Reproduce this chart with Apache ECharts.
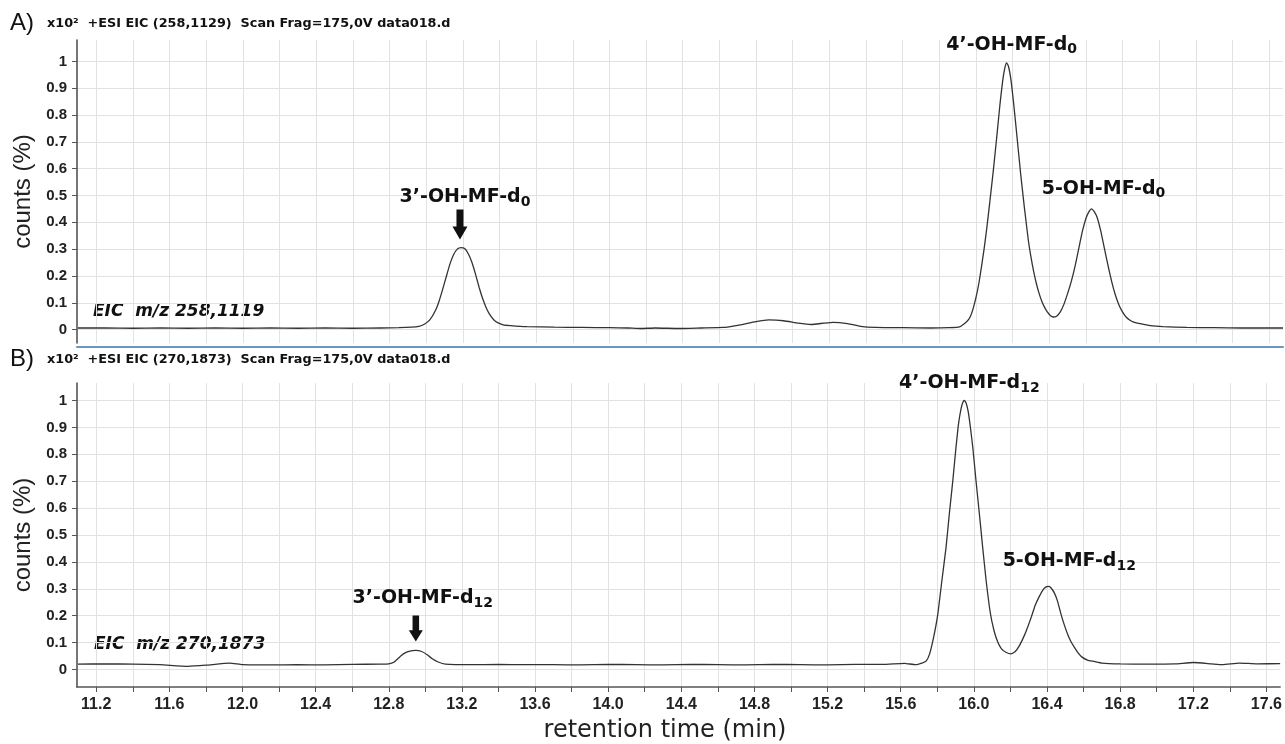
<!DOCTYPE html>
<html>
<head>
<meta charset="utf-8">
<script src="https://cdn.jsdelivr.net/npm/echarts@6/dist/echarts.min.js"></script>
<style>
  body { margin: 0; background: #fff; }
  #eicCharts { width: 1285px; height: 744px; }
</style>
</head>
<body>
<div id="eicCharts"></div>
<script>
// panel A : m/z 258,1119 (d0)
const timeA = [11.10, 11.25, 11.40, 11.55, 11.70, 11.85, 12.00, 12.15, 12.30, 12.45, 12.60, 12.75, 12.85, 12.92, 12.96,
  12.99, 13.02, 13.05, 13.07, 13.09, 13.11, 13.13, 13.15, 13.17, 13.19, 13.21, 13.23, 13.25, 13.27, 13.29, 13.31,
  13.33, 13.35, 13.37, 13.39, 13.42, 13.46, 13.55, 13.70, 13.85, 14.00, 14.10, 14.17, 14.25, 14.38, 14.50, 14.62,
  14.70, 14.80, 14.87, 14.95, 15.03, 15.10, 15.17, 15.22, 15.30, 15.37, 15.45, 15.60, 15.75, 15.85, 15.91, 15.95,
  15.97, 15.985, 16.00, 16.015, 16.03, 16.045, 16.06, 16.076, 16.094, 16.112, 16.13, 16.145, 16.157, 16.167, 16.177,
  16.19, 16.207, 16.225, 16.243, 16.264, 16.285, 16.30, 16.315, 16.33, 16.345, 16.36, 16.375, 16.39, 16.405, 16.421,
  16.44, 16.46, 16.48, 16.50, 16.52, 16.54, 16.56, 16.58, 16.60, 16.615, 16.63, 16.645, 16.66, 16.68, 16.70, 16.72,
  16.74, 16.76, 16.78, 16.80, 16.82, 16.84, 16.86, 16.88, 16.95, 17.02, 17.15, 17.30, 17.45, 17.60, 17.675];
const countA = [0.006, 0.006, 0.005, 0.006, 0.005, 0.006, 0.005, 0.006, 0.005, 0.006, 0.005, 0.006, 0.007, 0.009, 0.012,
  0.020, 0.036, 0.070, 0.105, 0.150, 0.198, 0.245, 0.280, 0.300, 0.306, 0.302, 0.283, 0.250, 0.205, 0.155, 0.112,
  0.078, 0.053, 0.036, 0.026, 0.018, 0.015, 0.011, 0.009, 0.008, 0.007, 0.006, 0.004, 0.006, 0.004, 0.006, 0.008,
  0.016, 0.030, 0.036, 0.033, 0.024, 0.019, 0.024, 0.027, 0.022, 0.012, 0.008, 0.007, 0.006, 0.007, 0.010, 0.030,
  0.050, 0.080, 0.120, 0.170, 0.235, 0.305, 0.385, 0.480, 0.590, 0.710, 0.835, 0.925, 0.975, 0.995, 0.982,
  0.935, 0.833, 0.710, 0.585, 0.455, 0.336, 0.270, 0.215, 0.170, 0.133, 0.104, 0.082, 0.065, 0.053, 0.047,
  0.050, 0.066, 0.095, 0.135, 0.180, 0.235, 0.300, 0.365, 0.415, 0.438, 0.450, 0.440, 0.420, 0.370, 0.305, 0.240,
  0.180, 0.130, 0.092, 0.065, 0.046, 0.035, 0.028, 0.024, 0.015, 0.011, 0.008, 0.007, 0.006, 0.006, 0.006];

// panel B : m/z 270,1873 (d12)
const timeB = [11.10, 11.25, 11.40, 11.55, 11.70, 11.80, 11.93, 12.00, 12.15, 12.30, 12.45, 12.60, 12.75, 12.80, 12.83,
  12.857, 12.88, 12.91, 12.948, 12.98, 13.01, 13.038, 13.07, 13.11, 13.25, 13.40, 13.55, 13.70, 13.85, 14.00, 14.15,
  14.30, 14.45, 14.60, 14.75, 14.90, 15.05, 15.20, 15.35, 15.50, 15.62, 15.68, 15.72, 15.74, 15.758, 15.78, 15.803,
  15.825, 15.848, 15.866, 15.885, 15.90, 15.916, 15.93, 15.94, 15.948, 15.958, 15.97, 15.982, 15.994, 16.012, 16.030,
  16.048, 16.067, 16.09, 16.11, 16.13, 16.15, 16.175, 16.203, 16.225, 16.25, 16.275, 16.294, 16.315, 16.335, 16.358,
  16.38, 16.395, 16.407, 16.42, 16.44, 16.457, 16.476, 16.495, 16.515, 16.53, 16.549, 16.57, 16.59, 16.621, 16.658,
  16.70, 16.80, 16.95, 17.10, 17.20, 17.30, 17.36, 17.45, 17.55, 17.675];
const countB = [0.020, 0.021, 0.020, 0.018, 0.012, 0.016, 0.024, 0.018, 0.017, 0.018, 0.017, 0.019, 0.020, 0.021, 0.028,
  0.045, 0.058, 0.067, 0.071, 0.067, 0.055, 0.040, 0.028, 0.020, 0.018, 0.019, 0.018, 0.018, 0.017, 0.019, 0.018,
  0.017, 0.019, 0.018, 0.017, 0.019, 0.018, 0.017, 0.019, 0.019, 0.023, 0.018, 0.025, 0.032, 0.058, 0.120, 0.207,
  0.330, 0.455, 0.580, 0.703, 0.810, 0.913, 0.970, 0.993, 1.000, 0.990, 0.955, 0.895, 0.826, 0.700, 0.579,
  0.455, 0.331, 0.210, 0.145, 0.103, 0.078, 0.064, 0.058, 0.066, 0.090, 0.125, 0.157, 0.197, 0.238, 0.272,
  0.298, 0.307, 0.309, 0.305, 0.285, 0.255, 0.207, 0.165, 0.127, 0.105, 0.083, 0.062, 0.047, 0.035, 0.030,
  0.024, 0.021, 0.020, 0.021, 0.026, 0.021, 0.018, 0.024, 0.021, 0.022];

// peak labels [time, counts, name, subscript]
const peaksA = [[13.19, 0.306, '3’-OH-MF-d', '0'], [16.167, 0.995, '4’-OH-MF-d', '0'], [16.63, 0.450, '5-OH-MF-d', '0']];
const peaksB = [[12.948, 0.071, '3’-OH-MF-d', '12'], [15.948, 1.000, '4’-OH-MF-d', '12'], [16.407, 0.309, '5-OH-MF-d', '12']];

const xTicks = [11.2, 11.4, 11.6, 11.8, 12.0, 12.2, 12.4, 12.6, 12.8, 13.0, 13.2, 13.4, 13.6, 13.8, 14.0, 14.2, 14.4,
  14.6, 14.8, 15.0, 15.2, 15.4, 15.6, 15.8, 16.0, 16.2, 16.4, 16.6, 16.8, 17.0, 17.2, 17.4, 17.6];
const xLabels = [11.2, 11.6, 12.0, 12.4, 12.8, 13.2, 13.6, 14.0, 14.4, 14.8, 15.2, 15.6, 16.0, 16.4, 16.8, 17.2, 17.6];
const yTicks = [0, 0.1, 0.2, 0.3, 0.4, 0.5, 0.6, 0.7, 0.8, 0.9, 1];

const FONT = 'Liberation Sans, Arial, sans-serif';
const WIDE = 'DejaVu Sans, sans-serif';
const arrowPath = 'path://M4,0 L11,0 L11,17 L15,17 L7.5,30 L0,17 L4,17 Z';

function zip(t, c) {
  return t.map(function (v, i) { return [v, c[i]]; });
}

// offsets of label centers from the peak tops, in px
const labelOffsets = [[4, -50], [5, -18], [12, -20]];
const labelOffsetsB = [[7, -52], [5, -17], [21, -25]];

function peakMarks(peaks, offs, arrowOff) {
  const rich = {
    m: { fontFamily: WIDE, fontWeight: 'bold', fontSize: 19, color: '#111', lineHeight: 22 },
    s: { fontFamily: WIDE, fontWeight: 'bold', fontSize: 14, color: '#111', lineHeight: 14, padding: [9, 0, 0, 0] }
  };
  const data = peaks.map(function (p, i) {
    return {
      coord: [p[0], p[1]],
      symbol: 'circle',
      symbolSize: 1,
      itemStyle: { color: 'rgba(0,0,0,0)' },
      label: { show: true, position: 'inside', offset: offs[i], formatter: '{m|' + p[2] + '}{s|' + p[3] + '}', rich: rich }
    };
  });
  data.push({
    coord: [peaks[0][0], peaks[0][1]],
    symbol: arrowPath,
    symbolSize: arrowOff.size,
    symbolOffset: arrowOff.offset,
    itemStyle: { color: '#111' },
    label: { show: false }
  });
  return { silent: true, animation: false, data: data };
}

function yAxisOf(idx, min, max) {
  return {
    type: 'value', gridIndex: idx, min: min, max: max,
    name: 'counts (%)', nameLocation: 'middle', nameGap: 39,
    nameTextStyle: { fontFamily: FONT, fontSize: 24, color: '#222' },
    axisLine: { show: true, onZero: false, lineStyle: { color: '#555', width: 1.6 } },
    axisTick: { show: true, length: 5, customValues: yTicks, lineStyle: { color: '#555' } },
    axisLabel: {
      customValues: yTicks, margin: 10, fontFamily: FONT, fontWeight: 'bold', fontSize: 15, color: '#222',
      formatter: function (v) { return String(+v.toFixed(1)); }
    },
    splitLine: { show: true, lineStyle: { color: '#e2e2e2', width: 1 } }
  };
}

let myChart = echarts.init(document.getElementById('eicCharts'));
let option = {
  animation: false,
  backgroundColor: '#fff',
  grid: [
    { left: 77, top: 40, width: 1206, height: 303 },
    { left: 77, top: 383, width: 1206, height: 304 }
  ],
  xAxis: [
    {
      type: 'value', gridIndex: 0, min: 11.095, max: 17.675, offset: 4,
      axisLine: { show: true, onZero: false, lineStyle: { color: '#6b97bf', width: 2 } },
      axisTick: { show: false, customValues: xTicks },
      axisLabel: { show: false },
      splitLine: { show: true, lineStyle: { color: '#e2e2e2', width: 1 } }
    },
    {
      type: 'value', gridIndex: 1, min: 11.095, max: 17.675,
      axisLine: { show: true, onZero: false, lineStyle: { color: '#555', width: 1.6 } },
      axisTick: { show: true, length: 5, customValues: xTicks, lineStyle: { color: '#555' } },
      axisLabel: {
        customValues: xLabels, margin: 10, fontFamily: FONT, fontWeight: 'bold', fontSize: 16, color: '#222',
        formatter: function (v) { return v.toFixed(1); }
      },
      splitLine: { show: true, lineStyle: { color: '#e2e2e2', width: 1 } }
    }
  ],
  yAxis: [yAxisOf(0, -0.05, 1.08), yAxisOf(1, -0.065, 1.065)],
  series: [
    {
      name: 'EIC 258', type: 'line', xAxisIndex: 0, yAxisIndex: 0,
      data: zip(timeA, countA), showSymbol: false, smooth: 0.15,
      lineStyle: { color: '#333', width: 1.3 },
      markPoint: peakMarks(peaksA, labelOffsets, { size: [15, 30], offset: [-1, -23] })
    },
    {
      name: 'EIC 270', type: 'line', xAxisIndex: 1, yAxisIndex: 1,
      data: zip(timeB, countB), showSymbol: false, smooth: 0.15,
      lineStyle: { color: '#333', width: 1.3 },
      markPoint: peakMarks(peaksB, labelOffsetsB, { size: [14, 26], offset: [0, -22] })
    }
  ],
  graphic: [
    { type: 'text', x: 10, y: 23, style: { text: 'A)', font: '24px ' + FONT, fill: '#111', verticalAlign: 'middle' } },
    { type: 'text', x: 47, y: 23.5, style: { text: 'x10²  +ESI EIC (258,1129)  Scan Frag=175,0V data018.d', font: 'bold 12.8px ' + WIDE, fill: '#111', verticalAlign: 'middle' } },
    { type: 'text', x: 10, y: 359, style: { text: 'B)', font: '24px ' + FONT, fill: '#111', verticalAlign: 'middle' } },
    { type: 'text', x: 47, y: 360, style: { text: 'x10²  +ESI EIC (270,1873)  Scan Frag=175,0V data018.d', font: 'bold 12.8px ' + WIDE, fill: '#111', verticalAlign: 'middle' } },
    { type: 'text', x: 93, y: 311.5, style: { text: 'EIC  m/z 258,1119', font: 'italic bold 17px ' + WIDE, fill: '#111', verticalAlign: 'middle' } },
    { type: 'text', x: 94, y: 645, style: { text: 'EIC  m/z 270,1873', font: 'italic bold 17px ' + WIDE, fill: '#111', verticalAlign: 'middle' } },
    { type: 'text', x: 665, y: 731, style: { text: 'retention time (min)', font: '24px ' + WIDE, fill: '#222', align: 'center', verticalAlign: 'middle' } }
  ]
};
myChart.setOption(option, true);
</script>
</body>
</html>
